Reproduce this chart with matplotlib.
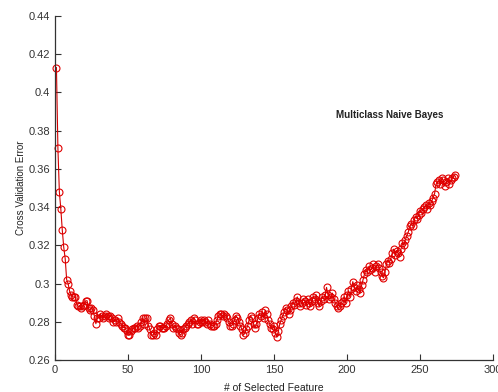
import numpy as np
import matplotlib.pyplot as plt

# cross validation error per number of selected features
err = [
    0.413, 0.371, 0.348, 0.339, 0.328, 0.319, 0.313, 0.302, 0.300, 0.296,
    0.294, 0.293, 0.293, 0.293, 0.289, 0.288, 0.288, 0.287, 0.288, 0.289,
    0.291, 0.291, 0.287, 0.286, 0.287, 0.286, 0.283, 0.279, 0.282, 0.282,
    0.284, 0.283, 0.282, 0.283, 0.284, 0.283, 0.282, 0.283, 0.282, 0.280,
    0.281, 0.280, 0.282, 0.280, 0.279, 0.278, 0.277, 0.277, 0.275, 0.273,
    0.273, 0.275, 0.276, 0.277, 0.277, 0.278, 0.277, 0.278, 0.280, 0.282,
    0.279, 0.282, 0.282, 0.278, 0.276, 0.273, 0.273, 0.274, 0.273, 0.276,
    0.278, 0.278, 0.277, 0.277, 0.277, 0.278, 0.279, 0.281, 0.282, 0.279,
    0.277, 0.278, 0.277, 0.276, 0.274, 0.273, 0.274, 0.276, 0.277, 0.278,
    0.279, 0.280, 0.281, 0.279, 0.282, 0.281, 0.279, 0.279, 0.280, 0.281,
    0.280, 0.281, 0.280, 0.279, 0.281, 0.279, 0.278, 0.278, 0.278, 0.279,
    0.281, 0.283, 0.284, 0.284, 0.283, 0.284, 0.283, 0.282, 0.280, 0.278,
    0.278, 0.279, 0.281, 0.283, 0.282, 0.280, 0.278, 0.276, 0.273, 0.274,
    0.276, 0.278, 0.281, 0.283, 0.282, 0.279, 0.277, 0.279, 0.282, 0.284,
    0.283, 0.285, 0.282, 0.286, 0.284, 0.281, 0.279, 0.277, 0.276, 0.278,
    0.274, 0.272, 0.275, 0.279, 0.281, 0.283, 0.285, 0.287, 0.286, 0.284,
    0.286, 0.288, 0.290, 0.289, 0.291, 0.293, 0.290, 0.288, 0.290, 0.292,
    0.291, 0.289, 0.292, 0.290, 0.288, 0.291, 0.293, 0.292, 0.294, 0.290,
    0.288, 0.291, 0.293, 0.292, 0.294, 0.298, 0.294, 0.292, 0.293, 0.295,
    0.292, 0.290, 0.288, 0.287, 0.288, 0.290, 0.291, 0.293, 0.290, 0.294,
    0.296, 0.293, 0.297, 0.301, 0.298, 0.296, 0.299, 0.297, 0.295, 0.299,
    0.302, 0.305, 0.307, 0.306, 0.309, 0.307, 0.308, 0.310, 0.306, 0.309,
    0.310, 0.308, 0.306, 0.304, 0.303, 0.306, 0.310, 0.312, 0.311, 0.313,
    0.316, 0.318, 0.315, 0.317, 0.316, 0.314, 0.318, 0.321, 0.320, 0.323,
    0.325, 0.327, 0.330, 0.331, 0.330, 0.333, 0.335, 0.334, 0.336, 0.338,
    0.337, 0.339, 0.340, 0.341, 0.339, 0.342, 0.341, 0.343, 0.345, 0.347,
    0.352, 0.353, 0.354, 0.352, 0.355, 0.354, 0.351, 0.353, 0.355, 0.352,
    0.354, 0.355, 0.356, 0.357,
]
n_feat = np.arange(1, len(err) + 1)

xticks = [0, 50, 100, 150, 200, 250, 300]
yticks = [0.26, 0.28, 0.3, 0.32, 0.34, 0.36, 0.38, 0.4, 0.42, 0.44]
ytick_labels = ['0.26', '0.28', '0.3', '0.32', '0.34', '0.36', '0.38', '0.4', '0.42', '0.44']

plt.rcParams['font.family'] = ['Liberation Sans', 'DejaVu Sans']

fig = plt.figure(figsize=(4.98, 3.92), dpi=100)
ax = fig.add_axes([0.1104, 0.0816, 0.8795, 0.8776])

ax.plot(n_feat, err, color='#d40000', linewidth=0.8, marker='o', markersize=5,
        markerfacecolor='none', markeredgecolor='#e00000', markeredgewidth=0.8,
        clip_on=False)

ax.set_xlim(0, 300)
ax.set_ylim(0.26, 0.44)
ax.set_xticks(xticks)
ax.set_yticks(yticks)
ax.set_yticklabels(ytick_labels)

for s in ['top', 'right']:
    ax.spines[s].set_visible(False)
for s in ['left', 'bottom']:
    ax.spines[s].set_color('#333333')
    ax.spines[s].set_linewidth(0.9)

ax.tick_params(direction='in', length=4, width=0.8, colors='#333333',
               labelsize=8, labelcolor='#333333')

ax.set_xlabel('# of Selected Feature', fontsize=7.5, color='#222222', labelpad=6)
ax.set_ylabel('Cross Validation Error', fontsize=7, color='#222222', labelpad=2)

ax.text(229, 0.388, 'Multiclass Naive Bayes', fontsize=7, fontweight='bold',
        color='#222222', ha='center', va='center')

fig.savefig('out.png', dpi=100)
